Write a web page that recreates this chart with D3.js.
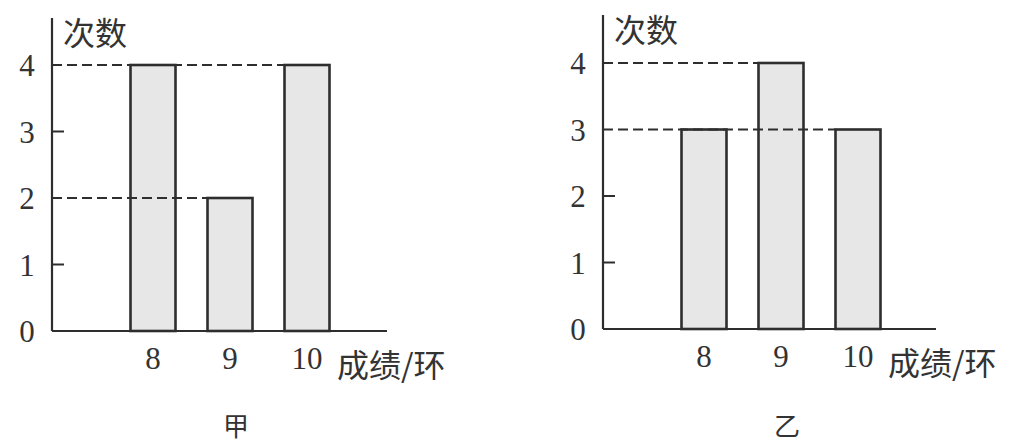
<!DOCTYPE html>
<html lang="zh-CN">
<head>
<meta charset="utf-8">
<title>甲乙成绩条形图</title>
<script src="https://d3js.org/d3.v7.min.js"></script>
<style>
  body { margin: 0; background: #fff; }
</style>
</head>
<body>
<svg id="chart" width="1012" height="445"></svg>
<script>
// scores (rings) and how many times each was hit
var scores = [8, 9, 10];
var countsJia = [4, 2, 4];
var countsYi = [3, 4, 3];
var yTicks = [0, 1, 2, 3, 4];

var numFont = "'Liberation Serif', 'Times New Roman', 'DejaVu Serif', serif";
var cjkFont = "'Noto Sans CJK SC', sans-serif";

var svg = d3.select("#chart");

function drawPanel(ox, oy, top, right, counts, name) {
  var g = svg.append("g").attr("transform", "translate(" + ox + "," + oy + ")");

  // x: score value -> centre of the bar, y: count -> height
  var x = d3.scaleLinear().domain([8, 10]).range([101, 255]);
  var y = d3.scaleLinear().domain([0, 4]).range([0, -266]);
  var barW = 45;

  var data = scores.map(function(s, i) { return { score: s, count: counts[i] }; });

  // bars
  g.selectAll("rect.bar")
    .data(data)
    .enter()
    .append("rect")
    .attr("class", "bar")
    .attr("x", function(d) { return x(d.score) - barW / 2; })
    .attr("y", function(d) { return y(d.count); })
    .attr("width", barW)
    .attr("height", function(d) { return -y(d.count); })
    .attr("fill", "#e7e7e7")
    .attr("stroke", "#2e2e2e")
    .attr("stroke-width", 2.6);

  // dashed guides: one per distinct count, up to the last bar of that height
  var levels = Array.from(new Set(counts));
  var guides = levels.map(function(v) {
    var last = d3.max(data.filter(function(d) { return d.count == v; }), function(d) { return d.score; });
    return { value: v, score: last };
  });
  g.selectAll("line.guide")
    .data(guides)
    .enter()
    .append("line")
    .attr("class", "guide")
    .attr("x1", 0)
    .attr("x2", function(d) { return x(d.score) - barW / 2; })
    .attr("y1", function(d) { return y(d.value); })
    .attr("y2", function(d) { return y(d.value); })
    .attr("stroke", "#2e2e2e")
    .attr("stroke-width", 2)
    .attr("stroke-dasharray", "10,5");

  // short ticks for the levels without a guide
  g.selectAll("line.tick")
    .data(yTicks.filter(function(t) { return t > 0 && levels.indexOf(t) < 0; }))
    .enter()
    .append("line")
    .attr("class", "tick")
    .attr("x1", 0)
    .attr("x2", 12)
    .attr("y1", function(d) { return y(d); })
    .attr("y2", function(d) { return y(d); })
    .attr("stroke", "#2e2e2e")
    .attr("stroke-width", 2);

  // axes
  g.append("line")
    .attr("x1", 0).attr("x2", 0)
    .attr("y1", top).attr("y2", 0)
    .attr("stroke", "#2e2e2e").attr("stroke-width", 2.2);
  g.append("line")
    .attr("x1", 0).attr("x2", right)
    .attr("y1", 0).attr("y2", 0)
    .attr("stroke", "#2e2e2e").attr("stroke-width", 2.2);

  // tick labels
  g.selectAll("text.ylab")
    .data(yTicks)
    .enter()
    .append("text")
    .attr("class", "ylab")
    .attr("font-family", numFont)
    .attr("fill", "#333")
    .attr("text-anchor", "middle")
    .attr("x", -25)
    .attr("y", function(d) { return y(d) + 11; })
    .attr("font-size", "31px")
    .text(function(d) { return d; });

  g.selectAll("text.xlab")
    .data(scores)
    .enter()
    .append("text")
    .attr("class", "xlab")
    .attr("font-family", numFont)
    .attr("fill", "#333")
    .attr("text-anchor", "middle")
    .attr("x", function(d) { return x(d); })
    .attr("y", 38)
    .attr("font-size", "31px")
    .text(function(d) { return d; });

  // axis titles
  g.append("text")
    .attr("font-family", cjkFont)
    .attr("fill", "#333")
    .attr("x", 11)
    .attr("y", top + 27)
    .attr("font-size", "32px")
    .text("次数");
  g.append("text")
    .attr("font-family", cjkFont)
    .attr("fill", "#333")
    .attr("x", 285)
    .attr("y", 46)
    .attr("font-size", "32px")
    .text("成绩/环");

  // panel name
  g.append("text")
    .attr("font-family", cjkFont)
    .attr("fill", "#333")
    .attr("text-anchor", "middle")
    .attr("x", 184)
    .attr("y", 436 - oy)
    .attr("font-size", "26px")
    .text(name);
}

drawPanel(52, 331, -313, 335, countsJia, "甲");
drawPanel(603, 329, -314, 333, countsYi, "乙");
</script>
</body>
</html>
